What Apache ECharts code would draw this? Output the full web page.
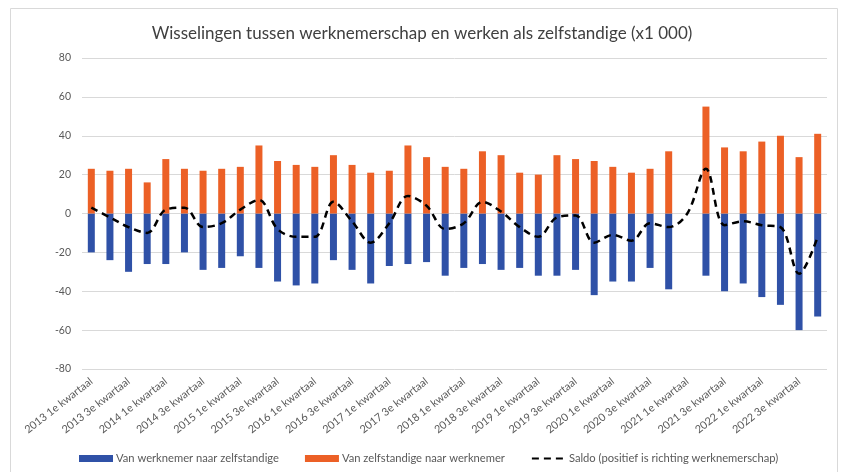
<!DOCTYPE html>
<html>
<head>
<meta charset="utf-8">
<script src="https://cdn.jsdelivr.net/npm/echarts@6/dist/echarts.min.js"></script>
<style>
  html, body { margin: 0; padding: 0; background: #fff; }
  #chart { width: 844px; height: 472px; }
</style>
</head>
<body>
<div id="chart"></div>
<script>
// kwartalen 2013 Q1 t/m 2022 Q4
const years = [2013, 2014, 2015, 2016, 2017, 2018, 2019, 2020, 2021, 2022];
const quarterNames = ['1e', '2e', '3e', '4e'];
const categories = [];
years.forEach(y => quarterNames.forEach(q => categories.push(y + ' ' + q + ' kwartaal')));

// Van werknemer naar zelfstandige (negatief)
const naarZelfstandige = [
  -20, -24, -30, -26, -26, -20, -29, -28, -22, -28,
  -35, -37, -36, -24, -29, -36, -27, -26, -25, -32,
  -28, -26, -29, -28, -32, -32, -29, -42, -35, -35,
  -28, -39, null, -32, -40, -36, -43, -47, -60, -53
];

// Van zelfstandige naar werknemer
const naarWerknemer = [
  23, 22, 23, 16, 28, 23, 22, 23, 24, 35,
  27, 25, 24, 30, 25, 21, 22, 35, 29, 24,
  23, 32, 30, 21, 20, 30, 28, 27, 24, 21,
  23, 32, null, 55, 34, 32, 37, 40, 29, 41
];

// Saldo (positief is richting werknemerschap)
const saldo = [
  3, -2, -7, -10, 2, 3, -7, -5, 2, 7,
  -8, -12, -12, 6, -4, -15, -5, 9, 4, -8,
  -5, 6, 1, -7, -12, -2, -1, -15, -11, -14,
  -5, -7, 0, 23, -6, -4, -6, -7, -31, -12
];

const yTicks = { min: -80, max: 80, interval: 20 };

const font = 'Lato, "Liberation Sans", sans-serif';
const chart = echarts.init(document.getElementById('chart'), null, { renderer: 'canvas' });

chart.setOption({
  animation: false,
  textStyle: { fontFamily: font },
  graphic: [{
    type: 'rect',
    shape: { x: 10.5, y: 8.5, width: 827, height: 480 },
    style: { fill: 'none', stroke: '#d9d9d9', lineWidth: 1 },
    silent: true
  }],
  title: {
    text: 'Wisselingen tussen werknemerschap en werken als zelfstandige (x1 000)',
    left: 'center',
    top: 20,
    textStyle: { fontFamily: font, fontSize: 17, fontWeight: 'normal', color: '#404040' }
  },
  legend: {
    bottom: 3,
    left: 74,
    itemGap: 26,
    itemWidth: 34,
    itemHeight: 7,
    textStyle: { fontFamily: font, fontSize: 11.2, color: '#595959', padding: [0, 0, 0, -2] },
    data: [
      { name: 'Van werknemer naar zelfstandige', icon: 'rect' },
      { name: 'Van zelfstandige naar werknemer', icon: 'rect' },
      { name: 'Saldo (positief is richting werknemerschap)', itemStyle: { opacity: 0 } }
    ]
  },
  grid: { left: 82, right: 17, top: 58, bottom: 103 },
  xAxis: {
    type: 'category',
    data: categories,
    axisLine: { show: false, onZero: false },
    axisTick: { show: false },
    axisLabel: {
      interval: 1,
      rotate: 38,
      fontFamily: font,
      fontSize: 10.8,
      color: '#595959',
      margin: 11
    }
  },
  yAxis: {
    type: 'value',
    min: yTicks.min,
    max: yTicks.max,
    interval: yTicks.interval,
    axisLine: { show: false },
    axisTick: { show: false },
    axisLabel: { fontFamily: font, fontSize: 10.5, color: '#595959', margin: 11 },
    splitLine: { lineStyle: { color: '#d9d9d9', width: 1 } }
  },
  series: [
    {
      name: 'Van werknemer naar zelfstandige',
      type: 'bar',
      stack: 'wissel',
      barWidth: 7,
      itemStyle: { color: '#2f51a7' },
      data: naarZelfstandige
    },
    {
      name: 'Van zelfstandige naar werknemer',
      type: 'bar',
      stack: 'wissel',
      barWidth: 7,
      itemStyle: { color: '#ec6026' },
      data: naarWerknemer
    },
    {
      name: 'Saldo (positief is richting werknemerschap)',
      type: 'line',
      smooth: 0.35,
      symbol: 'none',
      z: 5,
      itemStyle: { color: '#000' },
      lineStyle: { color: '#000', width: 2.5, type: [7, 5] },
      data: saldo
    }
  ]
});
</script>
</body>
</html>
